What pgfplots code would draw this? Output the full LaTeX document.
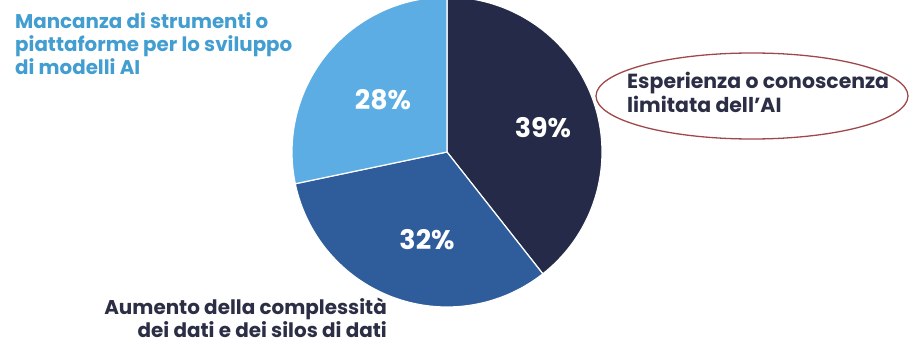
\documentclass[border=0pt]{standalone}
\usepackage{pgfplots}
\pgfplotsset{compat=1.18}
\usepackage{pgfplotstable}
\usepackage{fontspec}
\setmainfont{Poppins}
\definecolor{cDark}{HTML}{242A48}
\definecolor{cMid}{HTML}{2F5C9A}
\definecolor{cLight}{HTML}{5BADE3}
\definecolor{cLab}{HTML}{429DD0}
\definecolor{cText}{HTML}{2B2E45}
\definecolor{cOval}{HTML}{A0474A}
\pgfplotstableread{
label value
Esperienza 39
Aumento 32
Mancanza 28
}\piedata
\pgfplotstablegetelem{0}{value}\of\piedata \let\va\pgfplotsretval
\pgfplotstablegetelem{1}{value}\of\piedata \let\vb\pgfplotsretval
\pgfplotstablegetelem{2}{value}\of\piedata \let\vc\pgfplotsretval
\pgfmathsetmacro\tot{\va+\vb+\vc}
\pgfmathsetmacro\aA{90-360*\va/\tot}
\pgfmathsetmacro\aB{\aA-360*\vb/\tot}
\pgfmathsetmacro\aC{\aB-360*\vc/\tot}
\begin{document}
\begin{tikzpicture}
\useasboundingbox (0,0) rectangle (913bp,344bp);
\begin{axis}[hide axis, x=1bp, y=1bp, xmin=0, xmax=913, ymin=0, ymax=344,
  scale only axis, clip=true, anchor=origin, at={(0,0)}]
\addplot[fill=cDark, draw=white, line width=1.2pt, domain=90:\aA, samples=90, variable=\t]
  ({447+155*cos(\t)}, {192+155*sin(\t)}) -- (447,192) -- cycle;
\addplot[fill=cMid, draw=white, line width=1.2pt, domain=\aA:\aB, samples=90, variable=\t]
  ({447+155*cos(\t)}, {192+155*sin(\t)}) -- (447,192) -- cycle;
\addplot[fill=cLight, draw=white, line width=1.2pt, domain=\aB:\aC, samples=90, variable=\t]
  ({447+155*cos(\t)}, {192+155*sin(\t)}) -- (447,192) -- cycle;
\end{axis}
\begin{axis}[hide axis, x=1bp, y=1bp, xmin=0, xmax=913, ymin=0, ymax=344,
  scale only axis, clip=false, anchor=origin, at={(0,0)}]
\node[text=white, font=\fontsize{27}{30}\selectfont\bfseries] at (543,216) {\va\%};
\node[text=white, font=\fontsize{27}{30}\selectfont\bfseries] at (427,104) {\vb\%};
\node[text=white, font=\fontsize{27}{30}\selectfont\bfseries] at (383,244) {\vc\%};
\begin{scope}[every node/.style={text=cLab, inner sep=0pt, anchor=base west,
  font=\fontsize{19.9}{22}\selectfont\bfseries}]
\node at (15,316) {Mancanza di strumenti o};
\node at (15,293) {piattaforme per lo sviluppo};
\node at (15,270) {di modelli AI};
\end{scope}
\begin{scope}[every node/.style={text=cText, inner sep=0pt, anchor=base west,
  font=\fontsize{20.5}{22}\selectfont\bfseries}]
\node at (627,256) {Esperienza o conoscenza};
\node at (627,232) {limitata dell’AI};
\end{scope}
\begin{scope}[every node/.style={text=cText, inner sep=0pt, anchor=base east,
  font=\fontsize{20}{22}\selectfont\bfseries}]
\node at (387,30) {Aumento della complessità};
\node at (387,7) {dei dati e dei silos di dati};
\end{scope}
\draw[cOval, line width=1.3pt] (752,248) ellipse [x radius=156bp, y radius=43bp];
\end{axis}
\end{tikzpicture}
\end{document}
